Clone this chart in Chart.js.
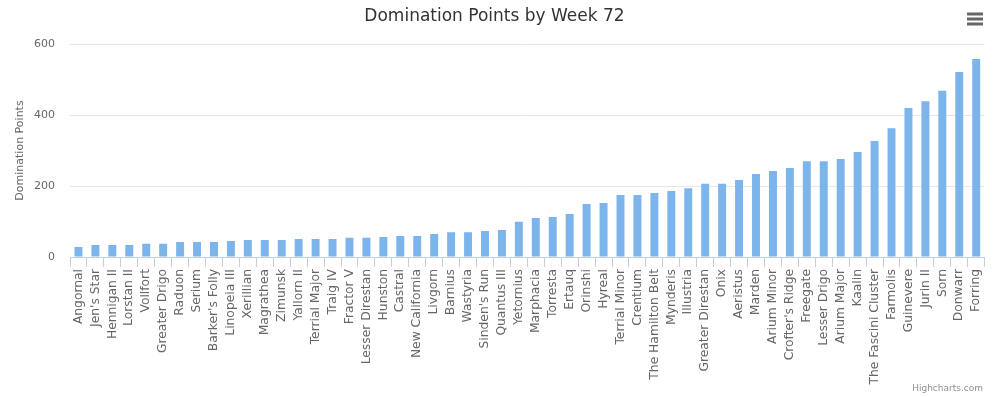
<!DOCTYPE html>
<html>
<head>
<meta charset="utf-8">
<script src="https://cdn.jsdelivr.net/npm/chart.js@4"></script>
<style>
  html, body { margin: 0; padding: 0; background: #fff; }
  #wrap { width: 993px; height: 397px; position: relative; }
</style>
</head>
<body>
<div id="wrap"><canvas id="chart" width="993" height="397"></canvas></div>
<script>
const systems = ['Angornal', "Jen's Star", 'Hennigan II', 'Lorstan II', 'Vollfort', 'Greater Drigo', 'Raduon', 'Serium',
  "Barker's Folly", 'Linopeia III', 'Xerillian', 'Magrathea', 'Zimunsk', 'Yallorn II', 'Terrial Major', 'Traig IV',
  'Fractor V', 'Lesser Direstan', 'Hunston', 'Castral', 'New California', 'Livgorn', 'Barnius', 'Wastyria',
  "Sinden's Run", 'Quantus III', 'Yetornius', 'Marphacia', 'Torresta', 'Ertauq', 'Orinshi', 'Hyreal',
  'Terrial Minor', 'Crentium', 'The Hamilton Belt', 'Mynderis', 'Illustria', 'Greater Direstan', 'Onix', 'Aeristus',
  'Marden', 'Arium Minor', "Crofter's Ridge", 'Freegate', 'Lesser Drigo', 'Arium Major', 'Kaalin',
  'The Fascini Cluster', 'Farmolis', 'Guinevere', 'Jurin II', 'Sorn', 'Donwarr', 'Forring'];
const points = [28, 34, 34, 34, 37, 37, 42, 42,
  42, 45, 48, 48, 48, 51, 51, 51,
  54, 54, 56, 59, 59, 65, 70, 70,
  73, 76, 99, 110, 113, 121, 149, 152,
  175, 175, 180, 186, 194, 206, 206, 217,
  234, 242, 251, 270, 270, 276, 296,
  327, 363, 420, 439, 468, 521, 558];
const yTicks = [0, 200, 400, 600];

const font = "'DejaVu Sans', Verdana, sans-serif";

// menu icon + credits
const extras = {
  id: 'extras',
  afterDraw(chart) {
    const c = chart.ctx;
    c.save();
    c.strokeStyle = '#666';
    c.lineWidth = 3;
    [14, 19, 24].forEach(y => {
      c.beginPath();
      c.moveTo(967, y);
      c.lineTo(983, y);
      c.stroke();
    });
    c.fillStyle = '#909090';
    c.font = "9px " + font;
    c.textAlign = 'right';
    c.textBaseline = 'middle';
    c.fillText('Highcharts.com', 983, 389);
    c.restore();
  }
};

new Chart(document.getElementById('chart'), {
  type: 'bar',
  data: {
    labels: systems,
    datasets: [{
      label: 'Domination Points',
      data: points,
      backgroundColor: '#7cb5ec',
      categoryPercentage: 1,
      barPercentage: 0.47
    }]
  },
  options: {
    responsive: false,
    animation: false,
    layout: { padding: { left: 0, right: 4, top: 0, bottom: 0 } },
    plugins: {
      legend: { display: false },
      tooltip: { enabled: false },
      title: {
        display: true,
        text: 'Domination Points by Week 72',
        color: '#333',
        font: { family: font, size: 17, weight: 'normal' },
        padding: { top: 6, bottom: 17.6 }
      }
    },
    scales: {
      x: {
        grid: { drawOnChartArea: false, drawTicks: true, tickLength: 10, color: '#C0D0E0', offset: true },
        border: { color: '#C0D0E0' },
        ticks: {
          autoSkip: false, minRotation: 90, maxRotation: 90, padding: 2,
          color: '#666', font: { family: font, size: 12.3 }
        },
        afterFit(scale) { scale.height = 140; }
      },
      y: {
        min: 0, max: 600,
        afterBuildTicks(scale) { scale.ticks = yTicks.map(v => ({ value: v })); },
        grid: { color: '#e6e6e6', drawTicks: false },
        border: { display: false },
        ticks: { padding: 15, color: '#666', font: { family: font, size: 11 } },
        title: {
          display: true, text: 'Domination Points', color: '#666',
          font: { family: font, size: 11 }, padding: { top: 14, bottom: 0 }
        },
        afterFit(scale) { scale.width = 70; }
      }
    }
  },
  plugins: [extras]
});
</script>
</body>
</html>
